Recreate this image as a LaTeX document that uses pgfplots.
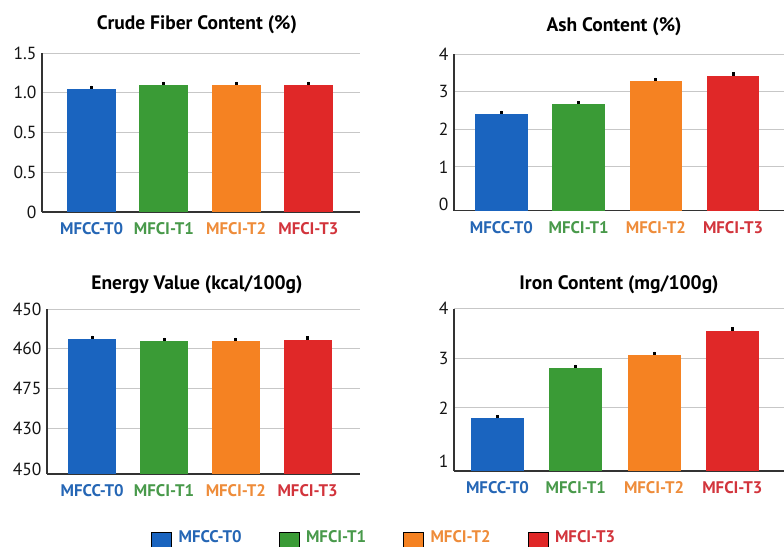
\documentclass[border=0pt]{standalone}
\usepackage{pgfplots}
\pgfplotsset{compat=1.18}
\usepackage{fontspec}
\setmainfont{PT Sans}
\definecolor{c0}{HTML}{1A64BF}
\definecolor{c1}{HTML}{3A9B36}
\definecolor{c2}{HTML}{F58222}
\definecolor{c3}{HTML}{E02828}
\definecolor{t0}{HTML}{2566B5}
\definecolor{t1}{HTML}{48994A}
\definecolor{t2}{HTML}{EE8C3A}
\definecolor{t3}{HTML}{D2343C}
\begin{document}
\begin{tikzpicture}
\useasboundingbox (0,0) rectangle (784pt,-546pt);
\pgfplotsset{
  panel/.style={
    scale only axis,
    anchor=south west,
    axis lines=left,
    every outer x axis line/.append style={-},
    every outer y axis line/.append style={-},
    every inner x axis line/.append style={-},
    every inner y axis line/.append style={-},
    axis line style={draw=black!80, line width=1.3pt, -},
    ymajorgrids,
    grid style={draw=black!22, line width=0.9pt},
    major tick length=0pt,
    /pgf/number format/assume math mode=true,
    xtick={0,1,2,3},
    xticklabels={\textcolor{t0}{MFCC-T0},\textcolor{t1}{MFCI-T1},\textcolor{t2}{MFCI-T2},\textcolor{t3}{MFCI-T3}},
    xticklabel style={font=\bfseries\fontsize{16.8}{16.8}\selectfont, anchor=center, yshift=-16.5pt},
    yticklabel style={font=\fontsize{17.5}{17.5}\selectfont, text=black!92, anchor=east, xshift=-2pt},
    title style={font=\bfseries\fontsize{19.5}{19.5}\selectfont, anchor=center, yshift=22pt},
    clip=false,
  },
  bar/.style={ybar, bar shift=0pt, draw=none, fill=#1,
    error bars/y dir=plus, error bars/y explicit, error bars/error mark=none,
    error bars/error bar style={black, line width=3pt}},
}
% Panel 1
\begin{axis}[panel, at={(42pt,-212pt)}, width=318pt, height=159pt,
  xmin=-0.6875, xmax=3.715, ymin=0, ymax=4,
  ytick={0,1,2,3,4}, yticklabels={0,0.5,0.5,1.0,1.5},
  bar width=49pt,
  title={Crude Fiber Content (\%)}, title style={at={(0.487,1)}}]
\addplot[bar=c0] coordinates {(0,3.09) +- (0,0.09)};
\addplot[bar=c1] coordinates {(1,3.19) +- (0,0.09)};
\addplot[bar=c2] coordinates {(2,3.19) +- (0,0.09)};
\addplot[bar=c3] coordinates {(3,3.19) +- (0,0.09)};
\end{axis}
% Panel 2
\begin{axis}[panel, at={(454pt,-210.7pt)}, width=330pt, height=156.4pt,
  xmin=-0.615, xmax=3.66, ymin=0, ymax=4.17,
  ytick={1.17,2.17,3.17,4.17}, yticklabels={1,2,3,4},
  extra y ticks={0.17}, extra y tick labels={0}, extra y tick style={grid=none},
  bar width=52.5pt,
  title={Ash Content (\%)}, title style={at={(0.485,1)}}]
\addplot[bar=c0] coordinates {(0,2.58) +- (0,0.09)};
\addplot[bar=c1] coordinates {(1,2.84) +- (0,0.09)};
\addplot[bar=c2] coordinates {(2,3.46) +- (0,0.09)};
\addplot[bar=c3] coordinates {(3,3.60) +- (0,0.09)};
\end{axis}
% Panel 3
\begin{axis}[panel, at={(47pt,-474pt)}, width=313pt, height=165pt,
  xmin=-0.63, xmax=3.73, ymin=0, ymax=4.16,
  ytick={1.16,2.16,3.16,4.16}, yticklabels={430,475,460,450},
  extra y ticks={0.12}, extra y tick labels={450}, extra y tick style={grid=none},
  bar width=48pt,
  title={Energy Value (kcal/100g)}, title style={at={(0.479,1)}, yshift=-4pt}]
\addplot[bar=c0] coordinates {(0,3.40) +- (0,0.09)};
\addplot[bar=c1] coordinates {(1,3.35) +- (0,0.09)};
\addplot[bar=c2] coordinates {(2,3.35) +- (0,0.09)};
\addplot[bar=c3] coordinates {(3,3.38) +- (0,0.09)};
\end{axis}
% Panel 4
\begin{axis}[panel, at={(454pt,-471pt)}, width=330pt, height=162.5pt,
  xmin=-0.556, xmax=3.66, ymin=0, ymax=3.27,
  ytick={1.27,2.27,3.27}, yticklabels={2,3,4},
  extra y ticks={0.20}, extra y tick labels={1}, extra y tick style={grid=none},
  bar width=53pt,
  title={Iron Content (mg/100g)}, title style={at={(0.5,1)}, yshift=-4pt},
  legend image code/.code={\fill[#1] (0pt,-13pt) rectangle (20pt,5pt);},
  legend style={draw=none, fill=none, legend columns=4, column sep=0pt, inner sep=0pt,
    nodes={inner sep=0pt}, font=\bfseries\fontsize{16.8}{16.8}\selectfont,
    at={(-0.918,-0.4285)}, anchor=west}]
\addplot[bar=c0, forget plot] coordinates {(0,1.06) +- (0,0.07)};
\addplot[bar=c1, forget plot] coordinates {(1,2.07) +- (0,0.07)};
\addplot[bar=c2, forget plot] coordinates {(2,2.33) +- (0,0.07)};
\addplot[bar=c3, forget plot] coordinates {(3,2.82) +- (0,0.07)};
\addlegendimage{fill=c0}
\addlegendentry{\hspace*{7pt}\textcolor{t0}{MFCC-T0}\hspace*{37pt}}
\addlegendimage{fill=c1}
\addlegendentry{\hspace*{7pt}\textcolor{t1}{MFCI-T1}\hspace*{37pt}}
\addlegendimage{fill=c2}
\addlegendentry{\hspace*{7pt}\textcolor{t2}{MFCI-T2}\hspace*{37pt}}
\addlegendimage{fill=c3}
\addlegendentry{\hspace*{7pt}\textcolor{t3}{MFCI-T3}}
\end{axis}
\end{tikzpicture}
\end{document}
